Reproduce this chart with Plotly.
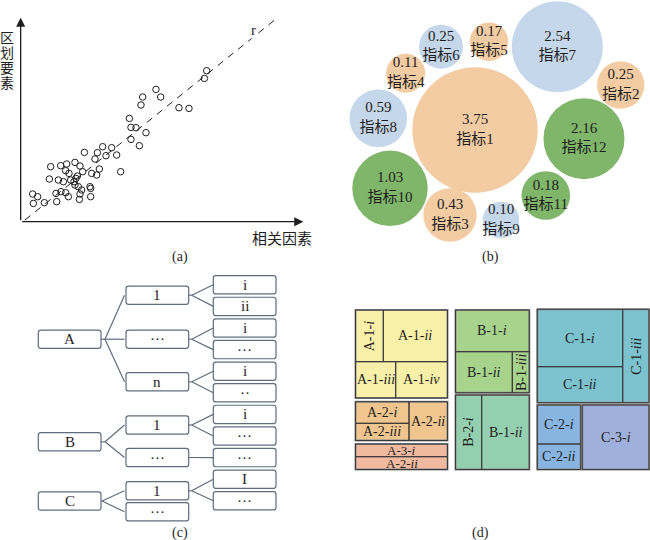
import plotly.graph_objects as go

W, H = 650, 540
SERIF = "Liberation Serif, Noto Sans CJK SC, serif"
INK = "#1e1e1e"

# ---------------- Panel (a): scatter of 区划要素 vs 相关因素 ----------------
scatter_points = [
    (12, 27.7), (17, 25), (12.7, 18.3), (23.7, 19), (36, 20), (35.3, 28.3), (40.3, 30),
    (45, 29), (47.7, 25), (58.7, 22.3), (59.3, 27.7), (61, 31.7), (57.7, 35), (54.3, 36.7),
    (69.3, 35), (70, 33.3), (70, 25), (28.7, 42.7), (37.7, 41.7), (42.7, 40), (50, 41.7),
    (30, 55), (40, 56), (46, 57.7), (45, 51), (48.3, 48.3), (54.3, 59.3), (59.3, 55.7),
    (62, 50), (56.7, 45.7), (55.3, 43.3), (53.3, 40), (63.7, 69.3), (71, 48.3), (76, 46.7),
    (78.7, 52.7), (74.3, 62.7), (76.7, 69), (82, 75), (85.3, 66), (91, 74), (96, 66.7),
    (100, 50), (108.7, 103.3), (110.3, 94.3), (115.3, 94), (110.3, 82.3), (118.7, 76),
    (125.3, 89), (120.3, 116.7), (122, 124.7), (135.3, 132.3), (140, 124.7), (158.3, 114),
    (168.3, 113.3), (183.7, 143.3), (186, 151),
]
fit_x = [4.3, 256]
fit_y = [1.7, 203.3]
a_ylabel = "区划要素"
a_xlabel = "相关因素"

# ---------------- Panel (b): bubble chart of indicators ----------------
bubble_names = ["指标1", "指标2", "指标3", "指标4", "指标5", "指标6",
                "指标7", "指标8", "指标9", "指标10", "指标11", "指标12"]
bubble_values = [3.75, 0.25, 0.43, 0.11, 0.17, 0.25, 2.54, 0.59, 0.10, 1.03, 0.18, 2.16]
bubble_group = ["o", "o", "o", "o", "o", "b", "b", "b", "b", "g", "g", "g"]
# layout: centre (x, y) and radius, in panel pixels
bubble_layout = [
    (475, 130, 62.7), (620.7, 85, 23.7), (450, 215, 26.7), (405.7, 73.3, 19.5),
    (489, 41.7, 19.2), (441, 46.7, 22), (557.3, 46.7, 45.5), (378.3, 118.3, 28.8),
    (501, 220, 18.3), (390, 188.3, 37.7), (545.8, 195.5, 24.3), (584, 138.7, 40.5),
]
bubble_colors = {"o": "#F3CCA3", "b": "#C5D7EA", "g": "#7FB66A"}

# ---------------- Panel (c): hierarchy tree ----------------
tree_l1 = ["A", "B", "C"]
tree_l2 = ["1", "···", "n", "1", "···", "1", "···"]
tree_l2_parent = [0, 0, 0, 1, 1, 2, 2]
tree_l3 = ["i", "ii", "i", "···", "i", "··", "i", "···", "···", "I", "···"]
tree_l3_parent = [0, 0, 1, 1, 2, 2, 3, 3, 4, 5, 5]
l1_y = [339.2, 441.8, 501.0]
l2_y = [295.2, 339.2, 381.8, 425.0, 457.5, 490.8, 511.8]
l3_y = [284.8 + 21.6 * k for k in range(len(tree_l3))]
col_x = [(38.3, 101.0), (126.0, 188.7), (213.3, 276.0)]
box_h = 18.3

# ---------------- Panel (d): treemap ----------------
tm_labels = ["A-1-<i>i</i>", "A-1-<i>ii</i>", "A-1-<i>iii</i>", "A-1-<i>iv</i>",
             "A-2-<i>i</i>", "A-2-<i>iii</i>", "A-2-<i>ii</i>",
             "A-3-<i>i</i>", "A-2-<i>ii</i>",
             "B-1-<i>i</i>", "B-1-<i>ii</i>", "B-1-<i>iii</i>",
             "B-2-<i>i</i>", "B-1-<i>ii</i>",
             "C-1-<i>i</i>", "C-1-<i>ii</i>", "C-1-<i>iii</i>",
             "C-2-<i>i</i>", "C-2-<i>ii</i>", "C-3-<i>i</i>"]
tm_block = ["A1", "A1", "A1", "A1", "A2", "A2", "A2", "A3", "A3",
            "B1", "B1", "B1", "B2", "B2", "C1", "C1", "C1", "C2", "C2", "C3"]
tm_rotated = [True, False, False, False, False, False, False, False, False,
              False, False, True, True, False, False, False, True, False, False, False]
tm_cells = [
    (355.5, 383.3, 310.0, 361.7), (383.3, 447.5, 310.0, 361.7),
    (355.5, 395.7, 361.7, 398.0), (395.7, 447.5, 361.7, 398.0),
    (355.5, 409.0, 401.7, 423.3), (355.5, 409.0, 423.3, 440.5), (409.0, 447.5, 401.7, 440.5),
    (355.5, 447.5, 444.0, 456.7), (355.5, 447.5, 456.7, 469.5),
    (455.5, 529.3, 310.0, 351.7), (455.5, 512.3, 351.7, 392.7), (512.3, 529.3, 351.7, 392.7),
    (455.5, 481.7, 395.0, 469.5), (481.7, 529.3, 395.0, 469.5),
    (537.3, 622.7, 309.3, 366.7), (537.3, 622.7, 366.7, 402.7), (622.7, 649.0, 309.3, 402.7),
    (537.3, 580.7, 405.0, 444.0), (537.3, 580.7, 444.0, 469.5), (582.3, 649.0, 405.0, 469.5),
]
tm_block_colors = {"A1": "#F8F0A9", "A2": "#F1C58E", "A3": "#F1B9A0", "B1": "#A7D38C",
                   "B2": "#94D0AF", "C1": "#7CC2CF", "C2": "#88B4E1", "C3": "#9FB0DC"}

panel_tags = ["(a)", "(b)", "(c)", "(d)"]
tag_pos = [(180, 257), (490.7, 257), (180, 533), (480.7, 533)]

# ---------------- figure ----------------
fig = go.Figure()

def px_dom_x(a, b):
    return [a / W, b / W]

def px_dom_y(top, bottom):
    return [1 - bottom / H, 1 - top / H]

ax0_x, ax0_y = 20.67, 221.7
fig.update_layout(
    width=W, height=H, margin=dict(l=0, r=0, t=0, b=0),
    paper_bgcolor="white", plot_bgcolor="rgba(0,0,0,0)", showlegend=False,
    xaxis=dict(domain=px_dom_x(ax0_x, ax0_x + 282.7), range=[0, 282.7], visible=False),
    yaxis=dict(domain=px_dom_y(ax0_y - 205, ax0_y), range=[0, 205], visible=False),
    xaxis2=dict(domain=px_dom_x(330, 650), range=[330, 650], visible=False),
    yaxis2=dict(domain=px_dom_y(0, 270), range=[270, 0], visible=False),
    xaxis3=dict(domain=[0, 1], range=[0, 650], visible=False),
    yaxis3=dict(domain=px_dom_y(270, 540), range=[540, 270], visible=False),
)

# (a) regression line and points
fig.add_trace(go.Scatter(x=fit_x, y=fit_y, mode="lines",
                         line=dict(color=INK, width=1, dash="7px,6px"),
                         hoverinfo="skip", xaxis="x", yaxis="y"))
fig.add_trace(go.Scatter(x=[p[0] for p in scatter_points], y=[p[1] for p in scatter_points],
                         mode="markers", cliponaxis=False,
                         marker=dict(symbol="circle-open", size=6.5, color=INK,
                                     line=dict(width=1, color=INK)),
                         xaxis="x", yaxis="y"))
annotations = []
# axis arrows
annotations.append(dict(xref="x", yref="y", axref="x", ayref="y", x=282.7, y=0, ax=0, ay=0,
                        text="", showarrow=True, arrowhead=2, arrowsize=1.4, arrowwidth=1.3,
                        arrowcolor=INK))
annotations.append(dict(xref="x", yref="y", axref="x", ayref="y", x=0, y=204, ax=0, ay=0,
                        text="", showarrow=True, arrowhead=2, arrowsize=1.4, arrowwidth=1.3,
                        arrowcolor=INK))
annotations.append(dict(xref="x", yref="y", x=233, y=192, text="r", showarrow=False,
                        bgcolor="white", borderpad=0,
                        font=dict(family=SERIF, size=15, color=INK)))

def paper_text(px, py, text, size):
    annotations.append(dict(xref="paper", yref="paper", x=px / W, y=1 - py / H, text=text,
                            xanchor="center", yanchor="middle", showarrow=False,
                            font=dict(family=SERIF, size=size, color=INK)))

for k, ch in enumerate(a_ylabel):
    paper_text(7, 38.5 + 15 * k, ch, 14)
paper_text(282, 239, a_xlabel, 15)

# (b) bubbles
fig.add_trace(go.Scatter(
    x=[b[0] for b in bubble_layout], y=[b[1] for b in bubble_layout],
    mode="markers+text", cliponaxis=False,
    marker=dict(size=[2 * b[2] for b in bubble_layout],
                color=[bubble_colors[g] for g in bubble_group],
                line=dict(width=0), opacity=1),
    text=[f"{v:.2f}<br>{n}" for v, n in zip(bubble_values, bubble_names)],
    textposition="middle center",
    textfont=dict(family=SERIF, size=15, color=INK),
    xaxis="x2", yaxis="y2"))

# (c) tree
shapes = []
LINE_C = "#5d6d7e"

def rrect(x0, y0, x1, y1, r=2.5):
    return (f"M{x0 + r},{y0} L{x1 - r},{y0} Q{x1},{y0} {x1},{y0 + r} "
            f"L{x1},{y1 - r} Q{x1},{y1} {x1 - r},{y1} L{x0 + r},{y1} "
            f"Q{x0},{y1} {x0},{y1 - r} L{x0},{y0 + r} Q{x0},{y0} {x0 + r},{y0} Z")

def seg(x0, y0, x1, y1):
    shapes.append(dict(type="line", xref="x3", yref="y3", x0=x0, y0=y0, x1=x1, y1=y1,
                       line=dict(color=LINE_C, width=1.2)))

for level, (labels, ys) in enumerate([(tree_l1, l1_y), (tree_l2, l2_y), (tree_l3, l3_y)]):
    x0, x1 = col_x[level]
    for lab, yc in zip(labels, ys):
        shapes.append(dict(type="path", xref="x3", yref="y3",
                           path=rrect(x0, yc - box_h / 2, x1, yc + box_h / 2),
                           line=dict(color=LINE_C, width=1.2), fillcolor="white"))
        annotations.append(dict(xref="x3", yref="y3", x=(x0 + x1) / 2, y=yc, text=lab,
                                showarrow=False, font=dict(family=SERIF, size=15, color=INK)))

# connectors level1 -> level2
for p, yc in enumerate(l1_y):
    kids = [i for i, q in enumerate(tree_l2_parent) if q == p]
    fork_x = col_x[0][1] + (4 if p < 2 else 1)
    seg(col_x[0][1], yc, fork_x, yc)
    for i in kids:
        seg(fork_x, yc, col_x[1][0] - 1.5, l2_y[i])
# connectors level2 -> level3
for p, yc in enumerate(l2_y):
    kids = [i for i, q in enumerate(tree_l3_parent) if q == p]
    if not kids:
        continue
    if len(kids) == 1:
        seg(col_x[1][1], yc, col_x[2][0], l3_y[kids[0]])
        continue
    fork_x = col_x[1][1] + 3
    seg(col_x[1][1], yc, fork_x, yc)
    for i in kids:
        seg(fork_x, yc, col_x[2][0], l3_y[i])

# (d) treemap
blocks = {}
for (x0, x1, y0, y1), blk in zip(tm_cells, tm_block):
    b = blocks.setdefault(blk, [x0, x1, y0, y1])
    b[0] = min(b[0], x0); b[1] = max(b[1], x1); b[2] = min(b[2], y0); b[3] = max(b[3], y1)
for blk, (x0, x1, y0, y1) in blocks.items():
    shapes.append(dict(type="rect", xref="x3", yref="y3", x0=x0, x1=x1, y0=y0, y1=y1,
                       fillcolor=tm_block_colors[blk], line=dict(color="#8a8a8a", width=2)))
for lab, blk, rot, (x0, x1, y0, y1) in zip(tm_labels, tm_block, tm_rotated, tm_cells):
    shapes.append(dict(type="rect", xref="x3", yref="y3", x0=x0, x1=x1, y0=y0, y1=y1,
                       fillcolor="rgba(0,0,0,0)", line=dict(color="#3a3a3a", width=1)))
    small = (y1 - y0) < 15
    annotations.append(dict(xref="x3", yref="y3", x=(x0 + x1) / 2, y=(y0 + y1) / 2, text=lab,
                            showarrow=False, textangle=-90 if rot else 0,
                            font=dict(family=SERIF, size=13 if small else 14, color=INK)))

for tag, (tx, ty) in zip(panel_tags, tag_pos):
    paper_text(tx, ty, tag, 14)

fig.update_layout(shapes=shapes, annotations=annotations)
fig.write_html("out.html", config={"displayModeBar": False},
               post_script="document.body.style.margin='0';")
